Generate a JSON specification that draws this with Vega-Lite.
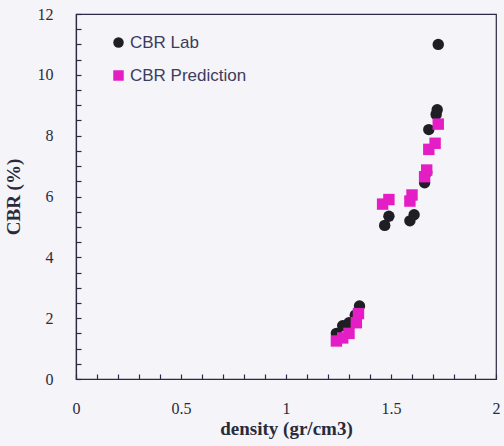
{
  "$schema": "https://vega.github.io/schema/vega-lite/v6.json",
  "width": 420,
  "height": 365,
  "autosize": {"type": "none"},
  "padding": {"left": 76, "top": 14, "right": 8, "bottom": 67},
  "background": "#f4f4f9",
  "config": {
    "view": {"stroke": "#2a2a44", "strokeWidth": 1.2},
    "font": "Liberation Serif"
  },
  "data": {
    "values": [
      {"series": "CBR Lab", "density": 1.24, "cbr": 1.5},
      {"series": "CBR Lab", "density": 1.27, "cbr": 1.75},
      {"series": "CBR Lab", "density": 1.30, "cbr": 1.85},
      {"series": "CBR Lab", "density": 1.33, "cbr": 2.1},
      {"series": "CBR Lab", "density": 1.35, "cbr": 2.4},
      {"series": "CBR Lab", "density": 1.47, "cbr": 5.05},
      {"series": "CBR Lab", "density": 1.49, "cbr": 5.35},
      {"series": "CBR Lab", "density": 1.59, "cbr": 5.2},
      {"series": "CBR Lab", "density": 1.61, "cbr": 5.4},
      {"series": "CBR Lab", "density": 1.66, "cbr": 6.45},
      {"series": "CBR Lab", "density": 1.67, "cbr": 6.8},
      {"series": "CBR Lab", "density": 1.68, "cbr": 8.2},
      {"series": "CBR Lab", "density": 1.715, "cbr": 8.7},
      {"series": "CBR Lab", "density": 1.72, "cbr": 8.85},
      {"series": "CBR Lab", "density": 1.725, "cbr": 11.0},
      {"series": "CBR Prediction", "density": 1.24, "cbr": 1.25},
      {"series": "CBR Prediction", "density": 1.27, "cbr": 1.35},
      {"series": "CBR Prediction", "density": 1.30, "cbr": 1.5},
      {"series": "CBR Prediction", "density": 1.335, "cbr": 1.85},
      {"series": "CBR Prediction", "density": 1.345, "cbr": 2.15},
      {"series": "CBR Prediction", "density": 1.46, "cbr": 5.75},
      {"series": "CBR Prediction", "density": 1.49, "cbr": 5.9},
      {"series": "CBR Prediction", "density": 1.59, "cbr": 5.85},
      {"series": "CBR Prediction", "density": 1.60, "cbr": 6.05},
      {"series": "CBR Prediction", "density": 1.66, "cbr": 6.65},
      {"series": "CBR Prediction", "density": 1.67, "cbr": 6.87},
      {"series": "CBR Prediction", "density": 1.68, "cbr": 7.55},
      {"series": "CBR Prediction", "density": 1.71, "cbr": 7.75},
      {"series": "CBR Prediction", "density": 1.725, "cbr": 8.38}
    ]
  },
  "mark": {"type": "point", "filled": true, "opacity": 1},
  "encoding": {
    "x": {
      "field": "density",
      "type": "quantitative",
      "scale": {"domain": [0, 2], "nice": false},
      "axis": {
        "title": "density (gr/cm3)",
        "titleFont": "Liberation Serif",
        "titleFontSize": 19,
        "titleFontWeight": "bold",
        "titleColor": "#2a2a3a",
        "titlePadding": 3,
        "values": [0, 0.1, 0.2, 0.3, 0.4, 0.5, 0.6, 0.7, 0.8, 0.9, 1, 1.1, 1.2, 1.3, 1.4, 1.5, 1.6, 1.7, 1.8, 1.9, 2],
        "labelExpr": "abs(datum.value*2 - round(datum.value*2)) < 0.001 ? format(datum.value, '~g') : ''",
        "labelFont": "Liberation Serif",
        "labelFontSize": 16,
        "labelColor": "#2a2a3a",
        "labelPadding": 26,
        "tickSize": -5,
        "tickWidth": 1.2,
        "tickColor": "#2a2a44",
        "domainColor": "#2a2a44",
        "domainWidth": 1.2,
        "grid": false,
        "labelFlush": false,
        "labelOverlap": false
      }
    },
    "y": {
      "field": "cbr",
      "type": "quantitative",
      "scale": {"domain": [0, 12], "nice": false},
      "axis": {
        "title": "CBR (%)",
        "titleFont": "Liberation Serif",
        "titleFontSize": 19,
        "titleFontWeight": "bold",
        "titleColor": "#2a2a3a",
        "titlePadding": 14,
        "values": [0, 0.5, 1, 1.5, 2, 2.5, 3, 3.5, 4, 4.5, 5, 5.5, 6, 6.5, 7, 7.5, 8, 8.5, 9, 9.5, 10, 10.5, 11, 11.5, 12],
        "labelExpr": "datum.value % 2 == 0 ? format(datum.value, '~g') : ''",
        "labelFont": "Liberation Serif",
        "labelFontSize": 16,
        "labelColor": "#2a2a3a",
        "labelPadding": 28,
        "tickSize": -5,
        "tickWidth": 1.2,
        "tickColor": "#2a2a44",
        "domainColor": "#2a2a44",
        "domainWidth": 1.2,
        "grid": false,
        "labelFlush": false,
        "labelOverlap": false
      }
    },
    "color": {
      "field": "series",
      "type": "nominal",
      "scale": {"domain": ["CBR Lab", "CBR Prediction"], "range": ["#1e1e24", "#e41ec4"]},
      "legend": {
        "title": null,
        "orient": "none",
        "legendX": 34,
        "legendY": 20,
        "labelFont": "Liberation Sans",
        "labelFontSize": 17,
        "labelColor": "#3c3c5c",
        "labelOffset": 3,
        "symbolSize": 110,
        "rowPadding": 15,
        "symbolOpacity": 1
      }
    },
    "shape": {
      "field": "series",
      "type": "nominal",
      "scale": {"domain": ["CBR Lab", "CBR Prediction"], "range": ["circle", "square"]},
      "legend": null
    },
    "size": {"value": 130}
  }
}
